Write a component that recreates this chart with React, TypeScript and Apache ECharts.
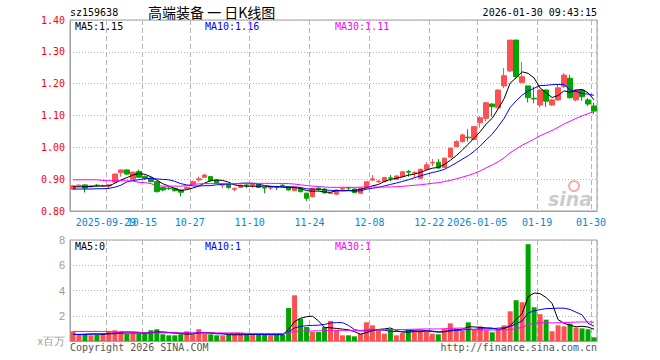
import React, { useEffect, useRef } from 'react';
import * as echarts from 'echarts';

const dates = [
  '2025-09-19', '2025-09-22', '2025-09-23', '2025-09-24', '2025-09-25', '2025-09-26', '2025-09-29', '2025-09-30',
  '2025-10-09', '2025-10-10', '2025-10-13', '2025-10-14', '2025-10-15', '2025-10-16', '2025-10-17', '2025-10-20',
  '2025-10-21', '2025-10-22', '2025-10-23', '2025-10-24', '2025-10-27', '2025-10-28', '2025-10-29', '2025-10-30',
  '2025-10-31', '2025-11-03', '2025-11-04', '2025-11-05', '2025-11-06', '2025-11-07', '2025-11-10', '2025-11-11',
  '2025-11-12', '2025-11-13', '2025-11-14', '2025-11-17', '2025-11-18', '2025-11-19', '2025-11-20', '2025-11-21',
  '2025-11-24', '2025-11-25', '2025-11-26', '2025-11-27', '2025-11-28', '2025-12-01', '2025-12-02', '2025-12-03',
  '2025-12-04', '2025-12-05', '2025-12-08', '2025-12-09', '2025-12-10', '2025-12-11', '2025-12-12', '2025-12-15',
  '2025-12-16', '2025-12-17', '2025-12-18', '2025-12-19', '2025-12-22', '2025-12-23', '2025-12-24', '2025-12-25',
  '2025-12-26', '2025-12-29', '2025-12-30', '2025-12-31', '2026-01-05', '2026-01-06', '2026-01-07', '2026-01-08',
  '2026-01-09', '2026-01-12', '2026-01-13', '2026-01-14', '2026-01-15', '2026-01-16', '2026-01-19', '2026-01-20',
  '2026-01-21', '2026-01-22', '2026-01-23', '2026-01-26', '2026-01-27', '2026-01-28', '2026-01-29', '2026-01-30',
];

const opens = [
  0.869, 0.879, 0.882, 0.876, 0.881, 0.879, 0.879, 0.891, 0.921, 0.929, 0.900, 0.924, 0.908, 0.903, 0.892, 0.874,
  0.872, 0.871, 0.866, 0.870, 0.885, 0.898, 0.906, 0.908, 0.897, 0.881, 0.884, 0.868, 0.874, 0.882, 0.880, 0.884,
  0.874, 0.872, 0.877, 0.881, 0.876, 0.864, 0.871, 0.856, 0.845, 0.872, 0.869, 0.855, 0.853, 0.869, 0.873, 0.869,
  0.856, 0.873, 0.897, 0.892, 0.893, 0.904, 0.900, 0.908, 0.924, 0.919, 0.903, 0.931, 0.951, 0.953, 0.937, 0.969,
  1.002, 1.018, 1.032, 1.025, 1.077, 1.091, 1.136, 1.124, 1.193, 1.240, 1.337, 1.204, 1.193, 1.154, 1.133, 1.180,
  1.133, 1.149, 1.191, 1.217, 1.149, 1.180, 1.149, 1.130,
];
const closes = [
  0.879, 0.881, 0.872, 0.879, 0.880, 0.880, 0.882, 0.916, 0.929, 0.916, 0.922, 0.906, 0.903, 0.892, 0.861, 0.866,
  0.871, 0.864, 0.859, 0.875, 0.892, 0.901, 0.913, 0.895, 0.887, 0.883, 0.874, 0.871, 0.881, 0.880, 0.883, 0.874,
  0.872, 0.874, 0.875, 0.880, 0.866, 0.873, 0.861, 0.840, 0.871, 0.869, 0.857, 0.857, 0.866, 0.871, 0.872, 0.858,
  0.872, 0.892, 0.901, 0.894, 0.905, 0.903, 0.910, 0.923, 0.922, 0.921, 0.931, 0.945, 0.953, 0.935, 0.966, 0.997,
  1.018, 1.039, 1.030, 1.065, 1.093, 1.140, 1.128, 1.180, 1.225, 1.337, 1.222, 1.222, 1.156, 1.152, 1.180, 1.145,
  1.149, 1.187, 1.227, 1.156, 1.180, 1.159, 1.136, 1.114,
];
const lows = [
  0.866, 0.875, 0.858, 0.873, 0.876, 0.876, 0.869, 0.889, 0.908, 0.914, 0.898, 0.904, 0.898, 0.890, 0.858, 0.862,
  0.866, 0.861, 0.846, 0.867, 0.882, 0.892, 0.904, 0.893, 0.885, 0.872, 0.870, 0.862, 0.872, 0.872, 0.872, 0.872,
  0.856, 0.866, 0.866, 0.876, 0.865, 0.862, 0.858, 0.832, 0.843, 0.862, 0.855, 0.853, 0.851, 0.866, 0.866, 0.856,
  0.854, 0.870, 0.894, 0.888, 0.890, 0.893, 0.898, 0.906, 0.908, 0.904, 0.901, 0.929, 0.941, 0.933, 0.935, 0.966,
  1.000, 1.015, 1.018, 1.022, 1.062, 1.082, 1.096, 1.122, 1.186, 1.237, 1.217, 1.202, 1.141, 1.138, 1.125, 1.127,
  1.130, 1.146, 1.186, 1.153, 1.144, 1.146, 1.130, 1.105,
];
const highs = [
  0.882, 0.884, 0.884, 0.882, 0.885, 0.883, 0.885, 0.918, 0.931, 0.930, 0.924, 0.930, 0.912, 0.908, 0.894, 0.876,
  0.876, 0.873, 0.868, 0.877, 0.895, 0.908, 0.916, 0.910, 0.898, 0.887, 0.886, 0.873, 0.883, 0.884, 0.889, 0.885,
  0.876, 0.877, 0.879, 0.884, 0.877, 0.875, 0.874, 0.858, 0.873, 0.874, 0.872, 0.860, 0.868, 0.874, 0.875, 0.871,
  0.874, 0.894, 0.913, 0.898, 0.907, 0.913, 0.912, 0.926, 0.929, 0.925, 0.933, 0.953, 0.963, 0.963, 0.968, 1.000,
  1.022, 1.043, 1.057, 1.067, 1.098, 1.143, 1.138, 1.182, 1.249, 1.337, 1.337, 1.268, 1.193, 1.190, 1.182, 1.182,
  1.152, 1.196, 1.233, 1.228, 1.183, 1.183, 1.155, 1.140,
];
// volume, millions of shares
const volumes = [
  0.77, 0.50, 0.58, 0.45, 0.50, 0.60, 0.77, 0.85, 0.77, 0.58, 0.58, 0.58, 0.62, 0.85, 0.93, 0.53,
  0.45, 0.45, 0.53, 0.77, 0.50, 0.93, 0.58, 0.53, 0.45, 0.45, 0.50, 0.53, 0.55, 0.50, 0.50, 0.58,
  0.50, 0.45, 0.50, 0.50, 2.62, 3.62, 1.77, 1.11, 0.71, 0.71, 1.11, 1.59, 0.85, 0.45, 0.45, 0.37,
  0.58, 1.48, 1.24, 0.90, 0.58, 0.95, 0.45, 0.63, 0.90, 0.85, 0.85, 0.77, 0.58, 0.53, 0.95, 1.40,
  0.98, 0.80, 1.48, 0.93, 1.16, 0.85, 0.69, 0.95, 1.24, 2.35, 3.23, 3.07, 7.67, 2.67, 2.12, 1.69,
  0.77, 1.24, 1.16, 1.38, 1.06, 1.00, 0.93, 0.29,
];

// moving-average values before enough history is on screen
const priceMa5Lead = [0.876, 0.876, 0.876, 0.877];
const priceMa10Lead = [0.869, 0.869, 0.869, 0.869, 0.870, 0.870, 0.871, 0.875, 0.881];
const priceMa30Lead = [
  0.898, 0.898, 0.898, 0.898, 0.898, 0.896, 0.895, 0.895, 0.895, 0.895, 0.894, 0.890, 0.889, 0.886, 0.880,
  0.878, 0.878, 0.878, 0.878, 0.880, 0.884, 0.885, 0.886, 0.886, 0.886, 0.886, 0.886, 0.886, 0.886,
];
const volMa5Lead = [0.52, 0.52, 0.52, 0.55];
const volMa10Lead = [0.52, 0.52, 0.52, 0.55, 0.55, 0.56, 0.57, 0.58, 0.60];
const volMa30Lead = [
  0.76, 0.76, 0.76, 0.76, 0.76, 0.76, 0.76, 0.70, 0.70, 0.70, 0.70, 0.70, 0.64, 0.64, 0.64,
  0.64, 0.64, 0.64, 0.64, 0.64, 0.64, 0.64, 0.64, 0.64, 0.64, 0.64, 0.64, 0.64, 0.64,
];

const xTickIdx = [6, 12, 20, 30, 40, 50, 60, 68, 78, 87];
const xTickLabels = ['2025-09-29', '10-15', '10-27', '11-10', '11-24', '12-08', '12-22', '2026-01-05', '01-19', '01-30'];

const UP = '#fe5050';
const DOWN = '#00a600';
const MONO = '"DejaVu Sans Mono", monospace';
const GRID_C = '#b4b4b4';
const BORDER_C = '#a0a0a0';

function movingAvg(arr: number[], n: number, lead: number[]) {
  return arr.map((_, i) => {
    if (i < n - 1) return lead[i];
    let s = 0;
    for (let j = i - n + 1; j <= i; j++) s += arr[j];
    return s / n;
  });
}

export default function App() {
  const ref = useRef<HTMLDivElement>(null);

  useEffect(() => {
    if (!ref.current) return;
    const chart = echarts.init(ref.current, undefined, { renderer: 'svg' });

    const pMa5 = movingAvg(closes, 5, priceMa5Lead);
    const pMa10 = movingAvg(closes, 10, priceMa10Lead);
    const pMa30 = movingAvg(closes, 30, priceMa30Lead);
    const vMa5 = movingAvg(volumes, 5, volMa5Lead);
    const vMa10 = movingAvg(volumes, 10, volMa10Lead);
    const vMa30 = movingAvg(volumes, 30, volMa30Lead);
    const last = dates.length - 1;

    const candle = opens.map((o, i) => [o, closes[i], lows[i], highs[i]]);
    const volData = volumes.map((v, i) => ({
      value: v,
      itemStyle: { color: closes[i] >= opens[i] ? UP : DOWN },
    }));

    const isTick = (i: number) => xTickIdx.indexOf(i) >= 0;
    const firstTick = xTickIdx[0];

    const labelStyle = {
      formatter: (_v: string, i: number) => xTickLabels[xTickIdx.indexOf(i)] || '',
      color: '#0a86d0',
      fontFamily: MONO,
      fontSize: 10,
      margin: 6,
      padding: [0, 6, 0, 0],
      showMinLabel: true,
      showMaxLabel: true,
      hideOverlap: false,
    };

    const xAxisBase = (gi: number, showLabel: boolean) => ({
      type: 'category',
      gridIndex: gi,
      data: dates,
      boundaryGap: true,
      position: 'bottom',
      axisLine: { show: true, lineStyle: { color: BORDER_C } },
      axisTick: { show: false },
      axisLabel: {
        ...labelStyle,
        show: showLabel,
        // the first tick label is drawn by its own axis below, so that its overlap with the next is kept
        interval: (i: number) => isTick(i) && i !== firstTick,
      },
      splitLine: {
        show: true,
        interval: (i: number) => isTick(i),
        lineStyle: { color: GRID_C, type: [5, 3], width: 1 },
      },
    });

    const firstLabelAxis = {
      type: 'category',
      gridIndex: 0,
      data: dates,
      boundaryGap: true,
      position: 'bottom',
      offset: 0,
      axisLine: { show: false },
      axisTick: { show: false },
      splitLine: { show: false },
      axisLabel: {
        ...labelStyle,
        show: true,
        interval: (i: number) => i === firstTick,
      },
    };

    const maLine = (name: string, data: number[], color: string, xi: number) => ({
      name,
      type: 'line',
      xAxisIndex: xi,
      yAxisIndex: xi,
      data,
      symbol: 'none',
      smooth: false,
      z: 4,
      lineStyle: { color, width: 1 },
      silent: true,
    });

    const txt = (x: number, y: number, text: string, font: string, fill: string, align = 'left') => ({
      type: 'text',
      x,
      y,
      silent: true,
      style: {
        text,
        font,
        fill,
        align,
        textAlign: align,
        verticalAlign: 'middle',
        textVerticalAlign: 'middle',
      },
    });

    chart.setOption({
      animation: false,
      backgroundColor: '#ffffff',
      grid: [
        { left: 70, top: 20, width: 527, height: 191, show: true, borderColor: BORDER_C, borderWidth: 1, backgroundColor: 'transparent' },
        { left: 70, top: 240, width: 527, height: 101, show: true, borderColor: BORDER_C, borderWidth: 1, backgroundColor: 'transparent' },
      ],
      xAxis: [xAxisBase(0, true), xAxisBase(1, false), firstLabelAxis],
      yAxis: [
        {
          type: 'value',
          gridIndex: 0,
          min: 0.8,
          max: 1.4,
          interval: 0.1,
          axisLine: { show: true, lineStyle: { color: BORDER_C } },
          axisTick: { show: false },
          axisLabel: {
            color: '#ff0000',
            fontFamily: MONO,
            fontSize: 10,
            margin: 5,
            formatter: (v: number) => v.toFixed(2),
          },
          splitLine: { show: true, lineStyle: { color: GRID_C, type: [1, 2], width: 1 } },
        },
        {
          type: 'value',
          gridIndex: 1,
          min: 0,
          max: 8,
          interval: 2,
          axisLine: { show: true, lineStyle: { color: BORDER_C } },
          axisTick: { show: false },
          axisLabel: {
            color: '#9a9a9a',
            fontFamily: '"Liberation Sans", sans-serif',
            fontSize: 11,
            margin: 5,
            formatter: (v: number) => (v === 0 ? 'x百万' : String(v)),
          },
          splitLine: { show: true, lineStyle: { color: GRID_C, type: [1, 2], width: 1 } },
        },
      ],
      series: [
        {
          name: 'K',
          type: 'candlestick',
          xAxisIndex: 0,
          yAxisIndex: 0,
          data: candle,
          barWidth: 5,
          silent: true,
          itemStyle: { color: UP, color0: DOWN, borderColor: UP, borderColor0: DOWN, borderWidth: 1 },
        },
        maLine('MA5', pMa5, '#000000', 0),
        maLine('MA10', pMa10, '#0000ff', 0),
        maLine('MA30', pMa30, '#ff00ff', 0),
        {
          name: 'VOL',
          type: 'bar',
          xAxisIndex: 1,
          yAxisIndex: 1,
          data: volData,
          barWidth: 5,
          silent: true,
        },
        maLine('VMA5', vMa5, '#000000', 1),
        maLine('VMA10', vMa10, '#0000ff', 1),
        maLine('VMA30', vMa30, '#ff00ff', 1),
      ],
      graphic: [
        txt(70, 12, 'sz159638', `10px ${MONO}`, '#000000'),
        txt(148, 12, '高端装备 一 日K线图', '14px "Noto Sans CJK SC", sans-serif', '#000000'),
        txt(597, 12, '2026-01-30 09:43:15', `10px ${MONO}`, '#000000', 'right'),
        txt(75, 26, 'MA5:' + pMa5[last].toFixed(2), `10px ${MONO}`, '#000000'),
        txt(205, 26, 'MA10:' + pMa10[last].toFixed(2), `10px ${MONO}`, '#0000ff'),
        txt(335, 26, 'MA30:' + pMa30[last].toFixed(2), `10px ${MONO}`, '#ff00ff'),
        txt(75, 246, 'MA5:' + Math.floor(vMa5[last]), `10px ${MONO}`, '#000000'),
        txt(205, 246, 'MA10:' + Math.floor(vMa10[last]), `10px ${MONO}`, '#0000ff'),
        txt(335, 246, 'MA30:' + Math.floor(vMa30[last]), `10px ${MONO}`, '#ff00ff'),
        txt(70, 347, 'Copyright 2026 SINA.COM', `10px ${MONO}`, '#555555'),
        txt(597, 347, 'http://finance.sina.com.cn', `10px ${MONO}`, '#555555', 'right'),
        {
          type: 'circle',
          shape: { cx: 574, cy: 186, r: 5 },
          style: { fill: 'none', stroke: '#f2b0b0', lineWidth: 2 },
          silent: true,
        },
        txt(570, 199, 'sina', 'italic bold 19px "DejaVu Sans", sans-serif', 'rgba(160,160,160,0.55)', 'center'),
      ],
    });

    return () => chart.dispose();
  }, []);

  return (
    <div
      ref={ref}
      style={{ position: 'fixed', left: 0, top: 0, width: 660, height: 360, background: '#ffffff' }}
    />
  );
}
